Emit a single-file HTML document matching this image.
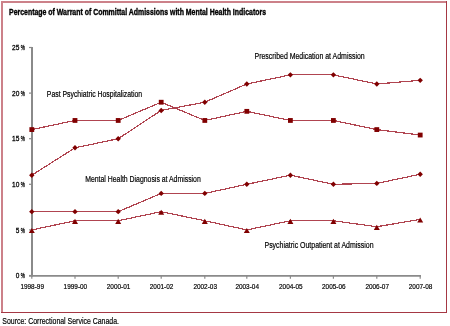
<!DOCTYPE html>
<html><head><meta charset="utf-8"><style>
html,body{margin:0;padding:0;background:#fff;}
body{width:450px;height:326px;overflow:hidden;position:relative;}
svg{position:absolute;left:0;top:0;will-change:transform;}
text{font-family:"Liberation Sans",sans-serif;fill:#000;}
</style></head><body>
<svg width="450" height="326" viewBox="0 0 450 326">

<rect x="1" y="1" width="446" height="2" fill="#cc8189"/>
<rect x="1" y="1" width="2" height="312" fill="#cc8189"/>
<rect x="446" y="1" width="1" height="312" fill="#a53844"/>
<rect x="1" y="312" width="446" height="1" fill="#a53844"/>
<text x="9.00" y="14.90" font-size="9.2" font-weight="bold" stroke="#000" stroke-width="0.4" textLength="257" lengthAdjust="spacingAndGlyphs">Percentage of Warrant of Committal Admissions with Mental Health Indicators</text>
<line x1="32" y1="47" x2="32" y2="276.5" stroke="#8a8a8a" stroke-width="2"/>
<line x1="29" y1="275.8" x2="421" y2="275.8" stroke="#8a8a8a" stroke-width="1.8"/>
<line x1="29" y1="275.50" x2="32" y2="275.50" stroke="#8a8a8a" stroke-width="1.2"/>
<text x="19.40" y="278.10" font-size="7.9" text-anchor="end" stroke="#000" stroke-width="0.3" textLength="3.6" lengthAdjust="spacingAndGlyphs">0</text>
<text x="20.70" y="278.10" font-size="8" stroke="#000" stroke-width="0.35" textLength="4.2" lengthAdjust="spacingAndGlyphs">%</text>
<line x1="29" y1="229.90" x2="32" y2="229.90" stroke="#8a8a8a" stroke-width="1.2"/>
<text x="19.40" y="232.50" font-size="7.9" text-anchor="end" stroke="#000" stroke-width="0.3" textLength="3.6" lengthAdjust="spacingAndGlyphs">5</text>
<text x="20.70" y="232.50" font-size="8" stroke="#000" stroke-width="0.35" textLength="4.2" lengthAdjust="spacingAndGlyphs">%</text>
<line x1="29" y1="184.30" x2="32" y2="184.30" stroke="#8a8a8a" stroke-width="1.2"/>
<text x="19.40" y="186.90" font-size="7.9" text-anchor="end" stroke="#000" stroke-width="0.3" textLength="7.3" lengthAdjust="spacingAndGlyphs">10</text>
<text x="20.70" y="186.90" font-size="8" stroke="#000" stroke-width="0.35" textLength="4.2" lengthAdjust="spacingAndGlyphs">%</text>
<line x1="29" y1="138.70" x2="32" y2="138.70" stroke="#8a8a8a" stroke-width="1.2"/>
<text x="19.40" y="141.30" font-size="7.9" text-anchor="end" stroke="#000" stroke-width="0.3" textLength="7.3" lengthAdjust="spacingAndGlyphs">15</text>
<text x="20.70" y="141.30" font-size="8" stroke="#000" stroke-width="0.35" textLength="4.2" lengthAdjust="spacingAndGlyphs">%</text>
<line x1="29" y1="93.10" x2="32" y2="93.10" stroke="#8a8a8a" stroke-width="1.2"/>
<text x="19.40" y="95.70" font-size="7.9" text-anchor="end" stroke="#000" stroke-width="0.3" textLength="7.3" lengthAdjust="spacingAndGlyphs">20</text>
<text x="20.70" y="95.70" font-size="8" stroke="#000" stroke-width="0.35" textLength="4.2" lengthAdjust="spacingAndGlyphs">%</text>
<line x1="29" y1="47.50" x2="32" y2="47.50" stroke="#8a8a8a" stroke-width="1.2"/>
<text x="19.40" y="50.10" font-size="7.9" text-anchor="end" stroke="#000" stroke-width="0.3" textLength="7.3" lengthAdjust="spacingAndGlyphs">25</text>
<text x="20.70" y="50.10" font-size="8" stroke="#000" stroke-width="0.35" textLength="4.2" lengthAdjust="spacingAndGlyphs">%</text>
<line x1="31.80" y1="275.5" x2="31.80" y2="278.7" stroke="#8a8a8a" stroke-width="1.2"/>
<text x="32.20" y="288.70" font-size="7.9" text-anchor="middle" stroke="#000" stroke-width="0.2" textLength="23.6" lengthAdjust="spacingAndGlyphs">1998-99</text>
<line x1="75.00" y1="275.5" x2="75.00" y2="278.7" stroke="#8a8a8a" stroke-width="1.2"/>
<text x="75.40" y="288.70" font-size="7.9" text-anchor="middle" stroke="#000" stroke-width="0.2" textLength="23.6" lengthAdjust="spacingAndGlyphs">1999-00</text>
<line x1="118.20" y1="275.5" x2="118.20" y2="278.7" stroke="#8a8a8a" stroke-width="1.2"/>
<text x="118.60" y="288.70" font-size="7.9" text-anchor="middle" stroke="#000" stroke-width="0.2" textLength="23.6" lengthAdjust="spacingAndGlyphs">2000-01</text>
<line x1="161.20" y1="275.5" x2="161.20" y2="278.7" stroke="#8a8a8a" stroke-width="1.2"/>
<text x="161.60" y="288.70" font-size="7.9" text-anchor="middle" stroke="#000" stroke-width="0.2" textLength="23.6" lengthAdjust="spacingAndGlyphs">2001-02</text>
<line x1="204.80" y1="275.5" x2="204.80" y2="278.7" stroke="#8a8a8a" stroke-width="1.2"/>
<text x="205.20" y="288.70" font-size="7.9" text-anchor="middle" stroke="#000" stroke-width="0.2" textLength="23.6" lengthAdjust="spacingAndGlyphs">2002-03</text>
<line x1="246.80" y1="275.5" x2="246.80" y2="278.7" stroke="#8a8a8a" stroke-width="1.2"/>
<text x="247.20" y="288.70" font-size="7.9" text-anchor="middle" stroke="#000" stroke-width="0.2" textLength="23.6" lengthAdjust="spacingAndGlyphs">2003-04</text>
<line x1="290.40" y1="275.5" x2="290.40" y2="278.7" stroke="#8a8a8a" stroke-width="1.2"/>
<text x="290.80" y="288.70" font-size="7.9" text-anchor="middle" stroke="#000" stroke-width="0.2" textLength="23.6" lengthAdjust="spacingAndGlyphs">2004-05</text>
<line x1="333.40" y1="275.5" x2="333.40" y2="278.7" stroke="#8a8a8a" stroke-width="1.2"/>
<text x="333.80" y="288.70" font-size="7.9" text-anchor="middle" stroke="#000" stroke-width="0.2" textLength="23.6" lengthAdjust="spacingAndGlyphs">2005-06</text>
<line x1="376.80" y1="275.5" x2="376.80" y2="278.7" stroke="#8a8a8a" stroke-width="1.2"/>
<text x="377.20" y="288.70" font-size="7.9" text-anchor="middle" stroke="#000" stroke-width="0.2" textLength="23.6" lengthAdjust="spacingAndGlyphs">2006-07</text>
<line x1="420.20" y1="275.5" x2="420.20" y2="278.7" stroke="#8a8a8a" stroke-width="1.2"/>
<text x="420.60" y="288.70" font-size="7.9" text-anchor="middle" stroke="#000" stroke-width="0.2" textLength="23.6" lengthAdjust="spacingAndGlyphs">2007-08</text>
<polyline points="31.80,175.18 75.00,147.82 118.20,138.70 161.20,110.43 204.80,102.22 246.80,83.98 290.40,74.86 333.40,74.86 376.80,83.98 420.20,80.33" fill="none" stroke="#b04450" stroke-width="1.2" shape-rendering="crispEdges"/>
<polyline points="31.80,129.58 75.00,120.46 118.20,120.46 161.20,102.22 204.80,120.46 246.80,111.34 290.40,120.46 333.40,120.46 376.80,129.58 420.20,135.05" fill="none" stroke="#b04450" stroke-width="1.2" shape-rendering="crispEdges"/>
<polyline points="31.80,211.66 75.00,211.66 118.20,211.66 161.20,193.42 204.80,193.42 246.80,184.30 290.40,175.18 333.40,184.30 376.80,183.39 420.20,174.27" fill="none" stroke="#b04450" stroke-width="1.2" shape-rendering="crispEdges"/>
<polyline points="31.80,229.90 75.00,220.78 118.20,220.78 161.20,211.66 204.80,220.78 246.80,229.90 290.40,220.78 333.40,220.78 376.80,226.71 420.20,219.41" fill="none" stroke="#b04450" stroke-width="1.2" shape-rendering="crispEdges"/>
<path d="M31.80 172.48L34.50 175.18L31.80 177.88L29.10 175.18Z" fill="#800000"/>
<path d="M75.00 145.12L77.70 147.82L75.00 150.52L72.30 147.82Z" fill="#800000"/>
<path d="M118.20 136.00L120.90 138.70L118.20 141.40L115.50 138.70Z" fill="#800000"/>
<path d="M161.20 107.73L163.90 110.43L161.20 113.13L158.50 110.43Z" fill="#800000"/>
<path d="M204.80 99.52L207.50 102.22L204.80 104.92L202.10 102.22Z" fill="#800000"/>
<path d="M246.80 81.28L249.50 83.98L246.80 86.68L244.10 83.98Z" fill="#800000"/>
<path d="M290.40 72.16L293.10 74.86L290.40 77.56L287.70 74.86Z" fill="#800000"/>
<path d="M333.40 72.16L336.10 74.86L333.40 77.56L330.70 74.86Z" fill="#800000"/>
<path d="M376.80 81.28L379.50 83.98L376.80 86.68L374.10 83.98Z" fill="#800000"/>
<path d="M420.20 77.63L422.90 80.33L420.20 83.03L417.50 80.33Z" fill="#800000"/>
<path d="M31.80 208.96L34.50 211.66L31.80 214.36L29.10 211.66Z" fill="#800000"/>
<path d="M75.00 208.96L77.70 211.66L75.00 214.36L72.30 211.66Z" fill="#800000"/>
<path d="M118.20 208.96L120.90 211.66L118.20 214.36L115.50 211.66Z" fill="#800000"/>
<path d="M161.20 190.72L163.90 193.42L161.20 196.12L158.50 193.42Z" fill="#800000"/>
<path d="M204.80 190.72L207.50 193.42L204.80 196.12L202.10 193.42Z" fill="#800000"/>
<path d="M246.80 181.60L249.50 184.30L246.80 187.00L244.10 184.30Z" fill="#800000"/>
<path d="M290.40 172.48L293.10 175.18L290.40 177.88L287.70 175.18Z" fill="#800000"/>
<path d="M333.40 181.60L336.10 184.30L333.40 187.00L330.70 184.30Z" fill="#800000"/>
<path d="M376.80 180.69L379.50 183.39L376.80 186.09L374.10 183.39Z" fill="#800000"/>
<path d="M420.20 171.57L422.90 174.27L420.20 176.97L417.50 174.27Z" fill="#800000"/>
<rect x="29.40" y="127.18" width="4.8" height="4.8" fill="#800000"/>
<rect x="72.60" y="118.06" width="4.8" height="4.8" fill="#800000"/>
<rect x="115.80" y="118.06" width="4.8" height="4.8" fill="#800000"/>
<rect x="158.80" y="99.82" width="4.8" height="4.8" fill="#800000"/>
<rect x="202.40" y="118.06" width="4.8" height="4.8" fill="#800000"/>
<rect x="244.40" y="108.94" width="4.8" height="4.8" fill="#800000"/>
<rect x="288.00" y="118.06" width="4.8" height="4.8" fill="#800000"/>
<rect x="331.00" y="118.06" width="4.8" height="4.8" fill="#800000"/>
<rect x="374.40" y="127.18" width="4.8" height="4.8" fill="#800000"/>
<rect x="417.80" y="132.65" width="4.8" height="4.8" fill="#800000"/>
<path d="M31.80 227.90L34.80 233.10L28.80 233.10Z" fill="#800000"/>
<path d="M75.00 218.78L78.00 223.98L72.00 223.98Z" fill="#800000"/>
<path d="M118.20 218.78L121.20 223.98L115.20 223.98Z" fill="#800000"/>
<path d="M161.20 209.66L164.20 214.86L158.20 214.86Z" fill="#800000"/>
<path d="M204.80 218.78L207.80 223.98L201.80 223.98Z" fill="#800000"/>
<path d="M246.80 227.90L249.80 233.10L243.80 233.10Z" fill="#800000"/>
<path d="M290.40 218.78L293.40 223.98L287.40 223.98Z" fill="#800000"/>
<path d="M333.40 218.78L336.40 223.98L330.40 223.98Z" fill="#800000"/>
<path d="M376.80 224.71L379.80 229.91L373.80 229.91Z" fill="#800000"/>
<path d="M420.20 217.41L423.20 222.61L417.20 222.61Z" fill="#800000"/>
<text x="46.80" y="96.80" font-size="8.9" stroke="#000" stroke-width="0.2" textLength="95.4" lengthAdjust="spacingAndGlyphs">Past Psychiatric Hospitalization</text>
<text x="254.50" y="58.90" font-size="8.9" stroke="#000" stroke-width="0.2" textLength="110.2" lengthAdjust="spacingAndGlyphs">Prescribed Medication at Admission</text>
<text x="85.20" y="181.90" font-size="8.9" stroke="#000" stroke-width="0.2" textLength="115.6" lengthAdjust="spacingAndGlyphs">Mental Health Diagnosis at Admission</text>
<text x="264.50" y="248.00" font-size="8.9" stroke="#000" stroke-width="0.2" textLength="109" lengthAdjust="spacingAndGlyphs">Psychiatric Outpatient at Admission</text>
<text x="2.30" y="323.60" font-size="9.2" stroke="#000" stroke-width="0.2" textLength="116.7" lengthAdjust="spacingAndGlyphs">Source:  Correctional Service Canada.</text>
</svg></body></html>
